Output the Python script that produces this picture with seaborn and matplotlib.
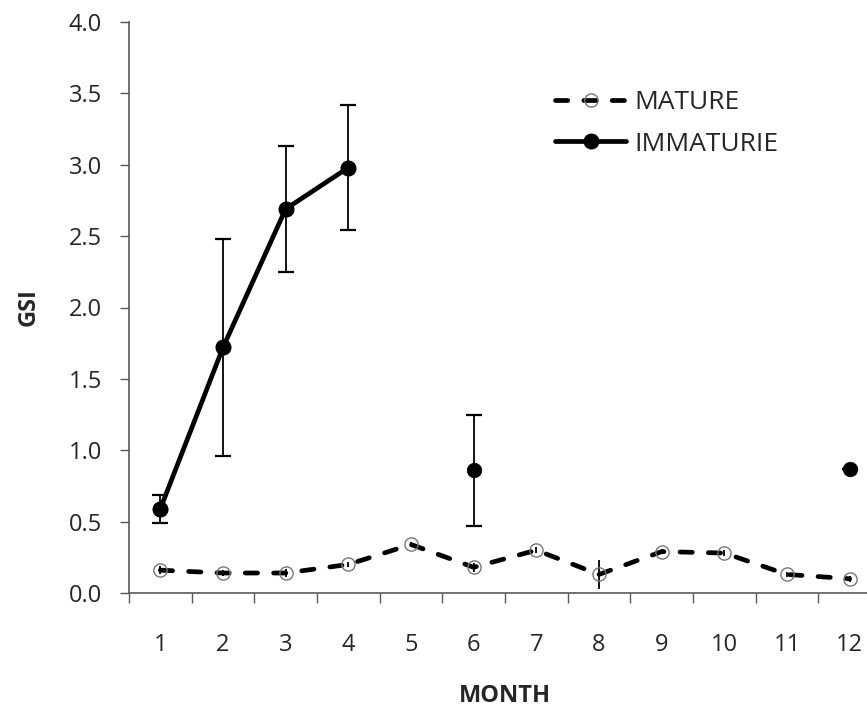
import numpy as np
import pandas as pd
import matplotlib
matplotlib.use("Agg")
import matplotlib.pyplot as plt
import seaborn as sns
from matplotlib.lines import Line2D

# ---- data ----
months = [1, 2, 3, 4, 5, 6, 7, 8, 9, 10, 11, 12]
mature = [0.16, 0.14, 0.14, 0.20, 0.34, 0.18, 0.30, 0.13, 0.29, 0.28, 0.13, 0.10]
mature_err = [0.03, 0.02, 0.03, 0.02, 0.02, 0.03, 0.02, 0.10, 0.02, 0.02, 0.02, 0.02]
imm_months = [1, 2, 3, 4, 6, 12]
immature = [0.59, 1.72, 2.69, 2.98, 0.86, 0.87]
immature_err = [0.10, 0.76, 0.44, 0.44, 0.39, 0.0]
imm_line_months = [1, 2, 3, 4]
imm_line_vals = [0.59, 1.72, 2.69, 2.98]
y_ticks = [0.0, 0.5, 1.0, 1.5, 2.0, 2.5, 3.0, 3.5, 4.0]

sns.set_style("white")
plt.rcParams['font.family'] = ['Open Sans', 'DejaVu Sans']

W, H = 867, 713
fig = plt.figure(figsize=(W / 100, H / 100), dpi=100)
ax = fig.add_axes([129 / W, (H - 593) / H, 752 / W, 571 / H])

axis_col = '#595959'
text_col = '#262626'
dash = (0, (2.6, 3.4))

df_m = pd.DataFrame({'month': months, 'gsi': mature})
df_i = pd.DataFrame({'month': imm_line_months, 'gsi': imm_line_vals})
df_ip = pd.DataFrame({'month': imm_months, 'gsi': immature})

# error bars
ax.errorbar(months, mature, yerr=mature_err, fmt='none', ecolor='black',
            elinewidth=1.3, capsize=0, zorder=2)
ax.errorbar(imm_months, immature, yerr=immature_err, fmt='none', ecolor='black',
            elinewidth=1.3, capsize=5.5, capthick=1.6, zorder=2)

# mature dashed line
sns.lineplot(data=df_m, x='month', y='gsi', ax=ax, color='black',
             linewidth=3.4, linestyle=dash, dash_capstyle='round',
             marker='o', markersize=9.5, markerfacecolor='none',
             markeredgecolor='#777777', markeredgewidth=1.0, zorder=3)

# immature solid line (months 1-4)
sns.lineplot(data=df_i, x='month', y='gsi', ax=ax, color='black',
             linewidth=3.4, marker='o', markersize=10.5, markerfacecolor='black',
             markeredgecolor='black', markeredgewidth=1.0, zorder=4)
# isolated immature points
sns.scatterplot(data=df_ip, x='month', y='gsi', ax=ax, color='black',
                s=110, edgecolor='black', linewidth=0.5, zorder=4)

ax.set_xlim(0.5, 12.5)
ax.set_ylim(0, 4.0)
ax.set_yticks(y_ticks)
ax.set_yticklabels([f"{v:.1f}" for v in y_ticks])
ax.set_xticks(months)
ax.set_xticklabels([str(m) for m in months])
ax.set_xticks(np.arange(0.5, 13.0, 1.0), minor=True)

for s in ['top', 'right']:
    ax.spines[s].set_visible(False)
for s in ['left', 'bottom']:
    ax.spines[s].set_color(axis_col)
    ax.spines[s].set_linewidth(1.2)

ax.tick_params(axis='y', which='major', direction='out', length=6.5, width=1.0,
               color=axis_col, labelsize=17, labelcolor=text_col, pad=13, left=True)
ax.tick_params(axis='x', which='major', length=0, labelsize=17,
               labelcolor=text_col, pad=29)
ax.tick_params(axis='x', which='minor', direction='out', length=7, width=1.0,
               color=axis_col, bottom=True)

ax.set_xlabel('MONTH', fontsize=17, fontweight='bold', color=text_col, labelpad=19)
ax.set_ylabel('GSI', fontsize=17, fontweight='bold', color=text_col, labelpad=20)

handles = [
    Line2D([], [], color='black', lw=3.4, linestyle=dash,
           dash_capstyle='round', marker='o', markersize=9.5,
           markerfacecolor='none', markeredgecolor='#777777', markeredgewidth=1.0),
    Line2D([], [], color='black', lw=3.4, marker='o', markersize=10.5,
           markerfacecolor='black', markeredgecolor='black'),
]
leg = ax.legend(handles, ['MATURE', 'IMMATURIE'], loc='upper left',
                bbox_to_anchor=(0.535, 0.922), frameon=False, fontsize=19,
                handlelength=2.7, handletextpad=0.3, labelspacing=0.62)
for t in leg.get_texts():
    t.set_color(text_col)

fig.savefig('out.png', dpi=100, facecolor='white')
